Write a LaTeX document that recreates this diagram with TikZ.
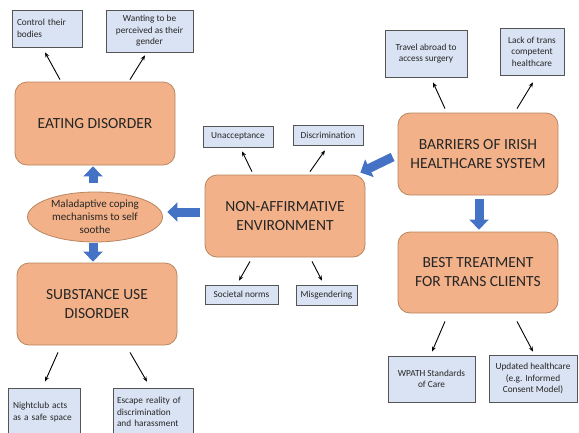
\documentclass[tikz,border=0pt]{standalone}
\usepackage{fontspec}
\setmainfont{Carlito}
\usetikzlibrary{arrows.meta,shapes.geometric}
\definecolor{orfill}{HTML}{F2B188}
\definecolor{ordraw}{HTML}{B98660}
\definecolor{bxfill}{HTML}{DAE3F3}
\definecolor{bxdraw}{HTML}{555555}
\definecolor{barrow}{HTML}{4472C4}
\definecolor{txt}{HTML}{262626}
\begin{document}
\begin{tikzpicture}[x=1pt,y=-1pt,
  mainbox/.style={draw=ordraw, fill=orfill, rounded corners=12pt, line width=0.8pt, align=center,
    font=\fontsize{15.5}{19}\selectfont, text=txt, inner sep=0pt},
  smallbox/.style={draw=bxdraw, fill=bxfill, line width=0.7pt, align=center,
    font=\fontsize{9.3}{11.5}\selectfont, text=txt, inner sep=0pt},
  thinarrow/.style={-{Stealth[length=5pt,width=4pt]}, line width=0.9pt, black},
  bluearrow/.style={-{Triangle[length=10pt,width=19pt]}, line width=9pt, barrow},
]
\useasboundingbox (0,0) rectangle (579,432);
\clip (0,0) rectangle (579,432);
\fill[white] (0,0) rectangle (579,432);

% main boxes
\node[mainbox, minimum width=160pt, minimum height=83pt] (ED) at (95,123.5) {EATING DISORDER};
\node[mainbox, minimum width=160pt, minimum height=82pt] (SUD) at (97,304) {SUBSTANCE USE\\DISORDER};
\node[mainbox, minimum width=160pt, minimum height=82pt] (NAE) at (285,216) {NON-AFFIRMATIVE\\ENVIRONMENT};
\node[mainbox, minimum width=160pt, minimum height=82pt] (BAR) at (478,154) {BARRIERS OF IRISH\\HEALTHCARE SYSTEM};
\node[mainbox, minimum width=160pt, minimum height=81pt] (BEST) at (478,272.5) {BEST TREATMENT\\FOR TRANS CLIENTS};
\node[ellipse, draw=ordraw, fill=orfill, line width=0.8pt, minimum width=135pt, minimum height=50pt,
  inner sep=0pt, align=center, font=\fontsize{11}{13}\selectfont, text=txt] (ELL) at (95,217)
  {Maladaptive coping\\mechanisms to self\\soothe};

% small boxes
\node[smallbox, align=left, text width=60pt, inner xsep=5pt, minimum height=37pt] (ctrl) at (47,28.5) {Control their\\bodies};
\node[smallbox, minimum width=87pt, minimum height=42pt] (want) at (149.5,31) {Wanting to be\\perceived as their\\gender};
\node[smallbox, minimum width=70pt, minimum height=21pt] (unacc) at (238,136.5) {Unacceptance};
\node[smallbox, minimum width=70pt, minimum height=20pt] (disc) at (328,135) {Discrimination};
\node[smallbox, minimum width=73pt, minimum height=19pt] (soc) at (241.5,294.5) {Societal norms};
\node[smallbox, minimum width=61pt, minimum height=20pt] (mis) at (326.5,295) {Misgendering};
\node[smallbox, minimum width=82pt, minimum height=47pt] (trav) at (426,53.5) {Travel abroad to\\access surgery};
\node[smallbox, minimum width=64pt, minimum height=47pt] (lack) at (532,51.5) {Lack of trans\\competent\\healthcare};
\node[smallbox, minimum width=87pt, minimum height=46pt] (wpath) at (431.5,379) {WPATH Standards\\of Care};
\node[smallbox, minimum width=88pt, minimum height=47pt] (upd) at (533,378.5) {Updated healthcare\\(e.g. Informed\\Consent Model)};
\node[smallbox, align=left, text width=62pt, inner xsep=5pt, minimum height=48pt] (night) at (44,412) {Nightclub acts\\as a safe space};
\node[smallbox, align=left, text width=72pt, inner xsep=4pt, minimum height=48pt] (esc) at (153,412) {Escape reality of\\discrimination\\and harassment};

% thin arrows
\draw[thinarrow] ([shift={(-35pt,2pt)}]ED.north) -- ([shift={(-2pt,-5pt)}]ctrl.south);
\draw[thinarrow] ([shift={(35pt,2pt)}]ED.north) -- ([shift={(-4.5pt,-3pt)}]want.south);
\draw[thinarrow] ([shift={(-33pt,3pt)}]NAE.north) -- ([shift={(4pt,-4pt)}]unacc.south);
\draw[thinarrow] ([shift={(25pt,3pt)}]NAE.north) -- ([shift={(-3pt,-5pt)}]disc.south);
\draw[thinarrow] ([shift={(-35pt,-4pt)}]NAE.south) -- ([shift={(-2.5pt,4pt)}]soc.north);
\draw[thinarrow] ([shift={(27pt,-4pt)}]NAE.south) -- ([shift={(-4.5pt,4pt)}]mis.north);
\draw[thinarrow] ([shift={(-33pt,4pt)}]BAR.north) -- ([shift={(7pt,-5pt)}]trav.south);
\draw[thinarrow] ([shift={(39pt,4pt)}]BAR.north) -- ([shift={(1pt,-7pt)}]lack.south);
\draw[thinarrow] ([shift={(-33pt,-8pt)}]BEST.south) -- ([shift={(0.5pt,4pt)}]wpath.north);
\draw[thinarrow] ([shift={(39pt,-8pt)}]BEST.south) -- ([shift={(0pt,3pt)}]upd.north);
\draw[thinarrow] ([shift={(-39pt,-7pt)}]SUD.south) -- ([shift={(1pt,6pt)}]night.north);
\draw[thinarrow] ([shift={(33pt,-7pt)}]SUD.south) -- ([shift={(-6pt,6pt)}]esc.north);

% blue arrows
\draw[bluearrow] ([shift={(-2pt,9pt)}]ELL.north) -- ([shift={(-2pt,-1pt)}]ED.south);
\draw[bluearrow] ([shift={(-2pt,-1pt)}]ELL.south) -- ([shift={(-4pt,1pt)}]SUD.north);
\draw[bluearrow] ([shift={(-5pt,4pt)}]NAE.west) -- ([shift={(4.5pt,5pt)}]ELL.east);
\draw[bluearrow] ([shift={(-5pt,-3pt)}]BAR.west) -- ([shift={(-5pt,2pt)}]NAE.north east);
\draw[bluearrow] ([shift={(1pt,-4pt)}]BAR.south) -- ([shift={(1pt,2pt)}]BEST.north);
\end{tikzpicture}
\end{document}
